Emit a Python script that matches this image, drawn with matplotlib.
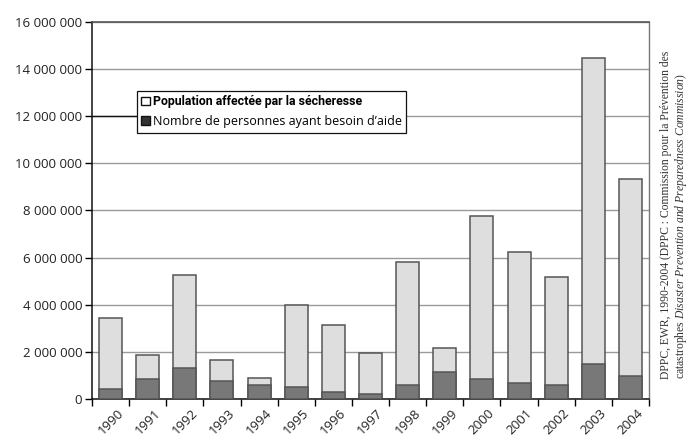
import matplotlib
matplotlib.use("Agg")
import matplotlib.pyplot as plt
from matplotlib.patches import Patch
from matplotlib.ticker import FuncFormatter, MultipleLocator
import numpy as np

plt.rcParams["font.family"] = ["Open Sans", "DejaVu Sans"]
plt.rcParams["mathtext.fontset"] = "custom"
plt.rcParams["mathtext.rm"] = "Liberation Serif"
plt.rcParams["mathtext.it"] = "Liberation Serif:italic"

years = ["1990", "1991", "1992", "1993", "1994", "1995", "1996", "1997",
         "1998", "1999", "2000", "2001", "2002", "2003", "2004"]
affected = [3430000, 1870000, 5260000, 1660000, 900000, 3990000, 3140000,
            1940000, 5830000, 2150000, 7740000, 6240000, 5190000, 14460000,
            9340000]
need_aid = [410000, 850000, 1300000, 760000, 610000, 520000, 280000,
            230000, 590000, 1160000, 850000, 670000, 580000, 1470000,
            980000]

label_affected = "Population affectée par la sécheresse"
label_aid = "Nombre de personnes ayant besoin d\u2019aide"
source_line1 = "DPPC, EWR, 1990-2004 (DPPC : Commission pour la Prévention des"
source_line2 = (r"catastrophes $\mathit{Disaster\ Prevention\ and\ Preparedness\ "
                r"Commission}$)")

light = "#dedede"
dark = "#787878"
edge = "#555555"

W, H = 692, 441
fig = plt.figure(figsize=(W / 100, H / 100), dpi=100)
ax = fig.add_axes([92 / W, 1 - 399 / H, (649 - 92) / W, (399 - 21.7) / H])

x = np.arange(len(years))
aff = np.array(affected)
aid = np.array(need_aid)
ax.bar(x, aff, width=0.62, color=light, edgecolor=edge, linewidth=1.1, zorder=2)
ax.bar(x, aid, width=0.62, color=dark, edgecolor=edge, linewidth=1.1, zorder=3)

ax.set_xlim(-0.5, len(years) - 0.5)
ax.set_ylim(0, 16000000)
ax.yaxis.set_major_locator(MultipleLocator(2000000))
ax.yaxis.set_major_formatter(FuncFormatter(lambda v, p: f"{v:,.0f}".replace(",", " ")))
ax.yaxis.grid(True, color="#9a9a9a", linewidth=1.0, zorder=0)
ax.set_axisbelow(True)

# leader from the value axis to the legend box
ax.axhline(12000000, xmin=0, xmax=(137 - 92) / (649 - 92), color="#111111",
           linewidth=1.0, zorder=1)

ax.set_xticks(x)
ax.set_xticklabels(years, rotation=45, fontsize=9.5, color="#222222")
ax.tick_params(axis="x", length=0, pad=5.5)
ax.set_xticks(np.arange(len(years) + 1) - 0.5, minor=True)
ax.tick_params(axis="x", which="minor", length=5, width=1.0, direction="out")
ax.tick_params(axis="y", length=5, width=1.0, direction="out", pad=2,
               labelsize=9.5, labelcolor="#222222")

for s in ["left", "bottom"]:
    ax.spines[s].set_color("#111111")
    ax.spines[s].set_linewidth(1.1)
ax.spines["top"].set_color("#555555")
ax.spines["top"].set_linewidth(1.2)
ax.spines["right"].set_color("#777777")
ax.spines["right"].set_linewidth(1.0)

handles = [Patch(facecolor="white", edgecolor="#111111", linewidth=1.0),
           Patch(facecolor="#333333", edgecolor="#111111", linewidth=1.0)]
leg = fig.legend(handles, [label_affected, label_aid], loc="upper left",
                 bbox_to_anchor=(137 / W, 1 - 91 / H), borderaxespad=0,
                 fontsize=9, handlelength=0.7, handleheight=0.7,
                 handletextpad=0.2, labelspacing=0.55, borderpad=0.35,
                 fancybox=False, framealpha=1, edgecolor="#111111")
leg.get_frame().set_linewidth(0.9)
leg.set_zorder(5)
t0 = leg.get_texts()[0]
t0.set_fontfamily(["Roboto", "Open Sans"])
t0.set_fontweight("bold")
t0.set_fontsize(8.9)

fig.text(666 / W, 1 - 379 / H, source_line1, rotation=90, ha="center",
         va="bottom", fontsize=8.4, family="Liberation Serif", color="#333333")
fig.text(681 / W, 1 - 379 / H, source_line2, rotation=90, ha="center",
         va="bottom", fontsize=8.4, family="Liberation Serif", color="#333333")

fig.savefig("out.png", dpi=100, facecolor="white")
